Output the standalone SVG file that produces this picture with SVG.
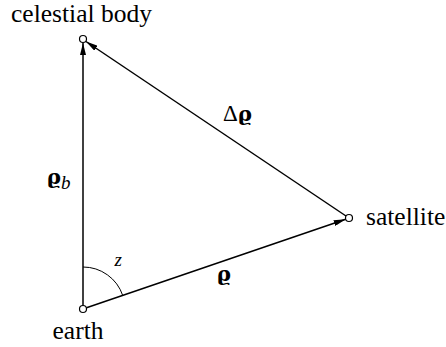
<svg xmlns="http://www.w3.org/2000/svg" width="446" height="347" viewBox="0 0 446 347">
<style>
.t{font-family:"Liberation Serif","Times New Roman",serif;font-size:25.5px;fill:#000}
.b{font-family:"DejaVu Serif","Liberation Serif",serif;font-weight:bold;font-size:21px;fill:#000}
.l{stroke:#000;stroke-width:1.5;fill:none}
.n{fill:#fff;stroke:#000;stroke-width:1.2}
</style>
<defs>
<marker id="a" viewBox="0 0 12 6" refX="12" refY="3" markerWidth="12" markerHeight="6" markerUnits="userSpaceOnUse" orient="auto">
<path d="M0,0 L12,3 L0,6 Z" fill="#000"/>
</marker>
</defs>
<g id="connectors">
<line class="l" x1="83" y1="305.5" x2="83" y2="43" marker-end="url(#a)"/>
<line class="l" x1="346" y1="216" x2="86" y2="41.5" marker-end="url(#a)"/>
<line class="l" x1="86.5" y1="307.8" x2="345.7" y2="219.2" marker-end="url(#a)"/>
<path d="M83,267 A42,42 0 0 1 122.7,295.4" stroke="#000" stroke-width="1" fill="none"/>
</g>
<g id="celestial">
<circle class="n" cx="83" cy="39" r="3.5"/>
<text class="t" x="81.5" y="22" text-anchor="middle">celestial body</text>
</g>
<g id="earth">
<circle class="n" cx="83" cy="309" r="3.5"/>
<text class="t" x="78" y="338.5" text-anchor="middle">earth</text>
</g>
<g id="satellite">
<circle class="n" cx="349" cy="218" r="3.5"/>
<text class="t" x="366" y="225">satellite</text>
</g>
<g id="labels">
<text class="t" x="223" y="121" style="font-size:23px">Δ</text><text class="b" x="238" y="121">ϱ</text>
<text class="b" x="47" y="184">ϱ</text><text class="t" x="61" y="189" style="font-style:italic;font-size:19px">b</text>
<text class="t" x="114.5" y="266" style="font-style:italic;font-size:19px">z</text>
<text class="b" x="217" y="281">ϱ</text>
</g>
</svg>
